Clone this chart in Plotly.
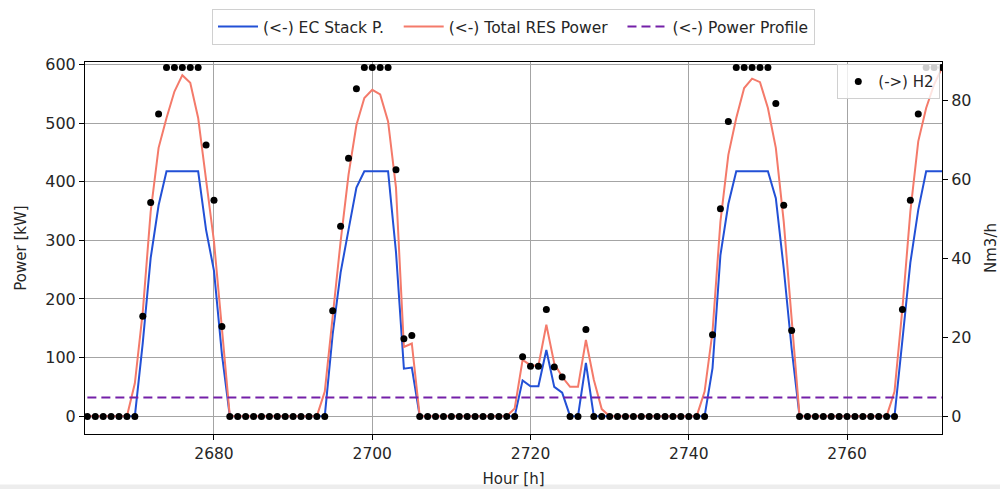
import plotly.graph_objects as go

# ---------------- data ----------------
hours = list(range(2664, 2773))

ec_stack_kw = (
    [0] * 7 + [125, 270, 360, 418, 418, 418, 418, 418, 318, 248, 106]
    + [0] * 13 + [140, 245, 318, 390, 418, 418, 418, 418, 280, 81, 83]
    + [0] * 13 + [61, 51, 51, 113, 50, 40, 0, 0, 91]
    + [0] * 15 + [82, 275, 362, 418, 418, 418, 418, 418, 372, 252, 115]
    + [0] * 13 + [130, 262, 352, 418, 418, 418]
)

res_kw = (
    [0] * 6 + [56, 178, 349, 458, 509, 554, 582, 569, 509, 400, 298, 150]
    + [0] * 12 + [42, 173, 298, 412, 497, 543, 557, 549, 503, 390, 118, 124]
    + [0] * 12 + [13, 96, 87, 86, 156, 90, 67, 50, 50, 130, 62, 12]
    + [0] * 12 + [42, 144, 332, 446, 509, 560, 576, 570, 526, 458, 332, 167]
    + [0] * 12 + [42, 184, 349, 469, 526, 566, 595]
)

h2_nm3h = (
    [0] * 7 + [25.4, 54.2, 76.6, 88.4, 88.4, 88.4, 88.4, 88.4, 68.8, 54.8, 22.8]
    + [0] * 13 + [26.8, 48.2, 65.4, 83.0, 88.4, 88.4, 88.4, 88.4, 62.5, 19.7, 20.5]
    + [0] * 13 + [15.1, 12.7, 12.7, 27.1, 12.5, 10.0, 0, 0, 22.0]
    + [0] * 15 + [20.7, 52.6, 74.7, 88.4, 88.4, 88.4, 88.4, 88.4, 79.3, 53.5, 21.8]
    + [0] * 13 + [27.1, 54.8, 76.6, 88.4, 88.4, 88.4]
)

power_profile_kw = 32

x_ticks = [2680, 2700, 2720, 2740, 2760]
y_ticks = [0, 100, 200, 300, 400, 500, 600]
y2_ticks = [0, 20, 40, 60, 80]

# ---------------- figure ----------------
FONT = "DejaVu Sans"
TXT = "#262626"
NB = "\u00a0"

fig = go.Figure()

fig.add_trace(go.Scatter(
    x=hours, y=ec_stack_kw, mode="lines", name="(<-) EC Stack P." + NB * 2,
    line=dict(color="#2250d6", width=2), legend="legend"))
fig.add_trace(go.Scatter(
    x=hours, y=res_kw, mode="lines", name="(<-) Total RES Power" + NB * 2,
    line=dict(color="#f47a6a", width=2), legend="legend"))
fig.add_trace(go.Scatter(
    x=hours, y=[power_profile_kw] * len(hours), mode="lines",
    name="(<-) Power Profile",
    line=dict(color="#7420a8", width=2, dash="9px,5px"), legend="legend"))
fig.add_trace(go.Scatter(
    x=hours, y=h2_nm3h, mode="markers", name="(->) H2", yaxis="y2",
    marker=dict(color="black", size=7), legend="legend2"))

fig.update_layout(
    width=1000, height=489,
    margin=dict(l=85, r=58, t=62, b=55, autoexpand=False),
    paper_bgcolor="white", plot_bgcolor="white",
    font=dict(family=FONT, size=15, color=TXT),
    xaxis=dict(
        range=[2663.7, 2772.0], tickvals=x_ticks, tickfont=dict(size=15.5),
        showgrid=True, gridcolor="#a4a4a4", gridwidth=1,
        showline=True, linecolor="black", linewidth=1, mirror=True,
        ticks="outside", ticklen=5, tickcolor="black",
        zeroline=False, automargin=False,
        title=dict(text="Hour [h]", standoff=11, font=dict(size=15)),
    ),
    yaxis=dict(
        range=[-30.5, 604.5], tickvals=y_ticks, tickfont=dict(size=16),
        showgrid=True, gridcolor="#a4a4a4", gridwidth=1,
        showline=True, linecolor="black", linewidth=1,
        ticks="outside", ticklen=5, tickcolor="black",
        zeroline=False, automargin=False,
        title=dict(text="Power [kW]", standoff=15, font=dict(size=15)),
    ),
    yaxis2=dict(
        range=[-4.45, 89.8], tickvals=y2_ticks, overlaying="y", side="right",
        tickfont=dict(size=16),
        showgrid=False, zeroline=False, automargin=False,
        showline=True, linecolor="black", linewidth=1,
        ticks="outside", ticklen=5, tickcolor="black",
        title=dict(text="Nm3/h", standoff=16, font=dict(size=15)),
    ),
    legend=dict(
        orientation="h", x=0.5, xanchor="center", y=1.046, yanchor="bottom",
        yref="paper", bgcolor="white", bordercolor="#d0d0d0", borderwidth=1,
        font=dict(size=15.5), itemwidth=40,
    ),
    legend2=dict(
        x=0.998, xanchor="right", y=0.994, yanchor="top",
        bgcolor="rgba(255,255,255,0.8)", bordercolor="#d0d0d0", borderwidth=1,
        font=dict(size=15), itemwidth=30,
    ),
    shapes=[dict(
        type="rect", xref="paper", yref="paper", x0=-0.2, x1=1.2,
        y0=-0.16, y1=-0.1355, fillcolor="#ededed", line=dict(width=0),
        layer="below",
    )],
)

fig.write_html(
    "out.html",
    config={"displayModeBar": False},
    post_script="document.body.style.margin='0';"
                "document.body.style.overflow='hidden';",
)
